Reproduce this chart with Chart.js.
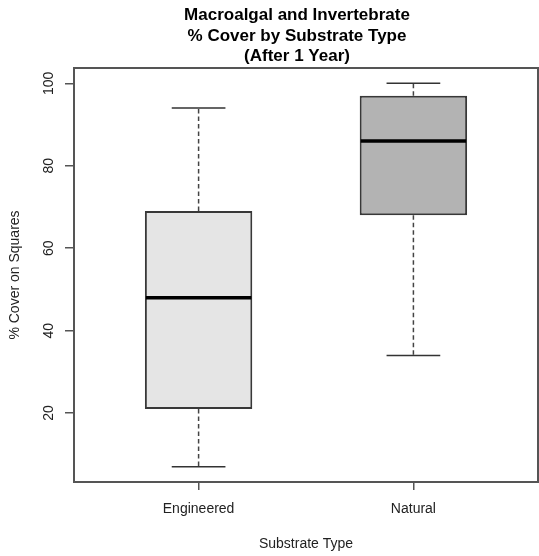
<!DOCTYPE html>
<html>
<head>
<meta charset="utf-8">
<script src="https://cdn.jsdelivr.net/npm/chart.js@4.4.1/dist/chart.umd.min.js"></script>
<style>
  html, body { margin: 0; padding: 0; background: #fff; }
  #wrap { width: 539px; height: 556px; }
</style>
</head>
<body>
<div id="wrap"><canvas id="boxChart" width="539" height="556"></canvas></div>
<script>
// five-number summaries per substrate
const categories = ["Engineered", "Natural"];
const whiskerLow = [7, 34];
const lowerQuartile = [21, 68];
const medians = [48, 86];
const upperQuartile = [69, 97];
const whiskerHigh = [94, 100];
const yTickValues = [20, 40, 60, 80, 100];

const titleLines = ["Macroalgal and Invertebrate", "% Cover by Substrate Type", "(After 1 Year)"];
const xTitle = "Substrate Type";
const yTitle = "% Cover on Squares";

const boxFills = ["#e5e5e5", "#b3b3b3"];
const frameColor = "#555";
const textColor = "#222";
const fontFamily = "'Liberation Sans', Arial, sans-serif";

// R-style axis ranges: data range padded by 4%
const yMin = Math.min(...whiskerLow), yMax = Math.max(...whiskerHigh);
const yPad = (yMax - yMin) * 0.04;
const xPad = categories.length * 0.04;

const boxPlotExtras = {
  id: "boxPlotExtras",
  afterDatasetsDraw(chart) {
    const { ctx, scales: { x, y } } = chart;
    const bars = chart.getDatasetMeta(0).data;
    ctx.save();
    categories.forEach((c, i) => {
      const cx = x.getPixelForValue(i + 1);
      const half = bars[i].width / 2;
      const cap = half / 2;
      // dashed whiskers
      ctx.strokeStyle = "#444";
      ctx.lineWidth = 1.5;
      ctx.setLineDash([4.5, 3]);
      ctx.beginPath();
      ctx.moveTo(cx, y.getPixelForValue(upperQuartile[i]));
      ctx.lineTo(cx, y.getPixelForValue(whiskerHigh[i]));
      ctx.moveTo(cx, y.getPixelForValue(lowerQuartile[i]));
      ctx.lineTo(cx, y.getPixelForValue(whiskerLow[i]));
      ctx.stroke();
      // staples
      ctx.setLineDash([]);
      ctx.strokeStyle = "#333";
      ctx.beginPath();
      ctx.moveTo(cx - cap, y.getPixelForValue(whiskerHigh[i]));
      ctx.lineTo(cx + cap, y.getPixelForValue(whiskerHigh[i]));
      ctx.moveTo(cx - cap, y.getPixelForValue(whiskerLow[i]));
      ctx.lineTo(cx + cap, y.getPixelForValue(whiskerLow[i]));
      ctx.stroke();
      // median
      ctx.strokeStyle = "#000";
      ctx.lineWidth = 3.5;
      ctx.beginPath();
      ctx.moveTo(cx - half + 1, y.getPixelForValue(medians[i]));
      ctx.lineTo(cx + half - 1, y.getPixelForValue(medians[i]));
      ctx.stroke();
    });
    ctx.restore();
  },
  afterDraw(chart) {
    const { ctx, chartArea: a, scales: { x, y } } = chart;
    ctx.save();
    // plot frame
    ctx.strokeStyle = frameColor;
    ctx.lineWidth = 2;
    ctx.strokeRect(a.left, a.top, a.right - a.left, a.bottom - a.top);

    // title
    ctx.fillStyle = "#000";
    ctx.font = "bold 17px " + fontFamily;
    ctx.textAlign = "center";
    ctx.textBaseline = "alphabetic";
    const tx = (a.left + a.right) / 2 - 9;
    titleLines.forEach((t, k) => ctx.fillText(t, tx, 20 + k * 20.5));

    // x tick labels and title
    ctx.fillStyle = textColor;
    ctx.font = "14px " + fontFamily;
    ctx.textBaseline = "middle";
    x.ticks.forEach((t, k) => {
      ctx.fillText(categories[t.value - 1], x.getPixelForTick(k), a.bottom + 27);
    });
    ctx.fillText(xTitle, (a.left + a.right) / 2, a.bottom + 62);

    // y tick labels, rotated like R's default
    y.ticks.forEach((t, k) => {
      ctx.save();
      ctx.translate(a.left - 25, y.getPixelForTick(k));
      ctx.rotate(-Math.PI / 2);
      ctx.fillText(String(t.value), 0, 0);
      ctx.restore();
    });
    ctx.save();
    ctx.translate(15, (a.top + a.bottom) / 2);
    ctx.rotate(-Math.PI / 2);
    ctx.fillText(yTitle, 0, 0);
    ctx.restore();
    ctx.restore();
  }
};

new Chart(document.getElementById("boxChart"), {
  type: "bar",
  data: {
    datasets: [{
      data: categories.map((c, i) => ({ x: i + 1, y: [lowerQuartile[i], upperQuartile[i]] })),
      backgroundColor: boxFills,
      borderColor: "#383838",
      borderWidth: 2,
      borderSkipped: false,
      barPercentage: 1,
      categoryPercentage: 0.5
    }]
  },
  options: {
    responsive: false,
    animation: false,
    layout: { padding: { top: 68, right: 1, left: 0, bottom: 0 } },
    plugins: { legend: { display: false }, tooltip: { enabled: false }, title: { display: false } },
    scales: {
      x: {
        type: "linear",
        offset: false,
        min: 0.5 - xPad,
        max: categories.length + 0.5 + xPad,
        afterBuildTicks: (s) => { s.ticks = categories.map((c, i) => ({ value: i + 1 })); },
        afterFit: (s) => { s.height = 74; },
        ticks: { display: false },
        border: { display: false },
        grid: { offset: false, drawOnChartArea: false, drawTicks: true, tickLength: 8, color: frameColor, lineWidth: 1.5 }
      },
      y: {
        min: yMin - yPad,
        max: yMax + yPad,
        afterBuildTicks: (s) => { s.ticks = yTickValues.map(v => ({ value: v })); },
        afterFit: (s) => { s.width = 74; },
        ticks: { display: false },
        border: { display: false },
        grid: { drawOnChartArea: false, drawTicks: true, tickLength: 9, color: frameColor, lineWidth: 1.5 }
      }
    }
  },
  plugins: [boxPlotExtras]
});
</script>
</body>
</html>
